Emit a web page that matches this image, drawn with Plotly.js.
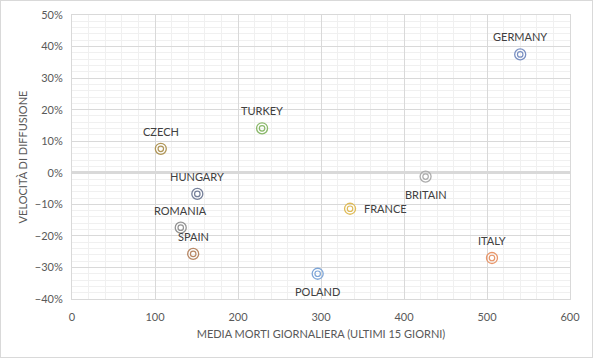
<!DOCTYPE html>
<html>
<head>
<meta charset="utf-8">
<script src="https://cdn.plot.ly/plotly-3.0.1.min.js"></script>
<style>
html,body{margin:0;padding:0;background:#fff;}
#chart{width:591px;height:356px;border:1px solid #d9d9d9;}
</style>
</head>
<body>
<div id="chart"></div>
<script>
const countries = ["GERMANY","TURKEY","CZECH","HUNGARY","ROMANIA","SPAIN","POLAND","FRANCE","BRITAIN","ITALY"];
const deaths = [540, 229, 107, 151, 131, 146, 296, 335, 426, 506];
const speed = [0.375, 0.141, 0.076, -0.067, -0.174, -0.257, -0.32, -0.114, -0.012, -0.27];
const labelPos = ["top","top","top","top","top","top","bottom","right","bottom","top"];
const colors = ["#7a90c2","#8ab86a","#b09658","#76809a","#939393","#b88866","#7ea6d8","#dfbb58","#acacac","#e8966a"];
const xTitle = "MEDIA MORTI GIORNALIERA (ULTIMI 15 GIORNI)";
const yTitle = "VELOCITÀ DI DIFFUSIONE";

const FONT = "Lato, 'Open Sans', sans-serif";
const txt = "#595959";

const outer = {
  x: deaths, y: speed, mode: "markers", type: "scatter", hoverinfo: "skip",
  marker: {symbol: "circle-open", size: 11, color: colors, line: {width: 1.3, color: colors}}
};
const inner = {
  x: deaths, y: speed, mode: "markers", type: "scatter", hoverinfo: "skip",
  marker: {symbol: "circle-open", size: 5.5, color: colors, line: {width: 1.2, color: colors}}
};

const annotations = countries.map((c, i) => {
  const p = labelPos[i];
  const a = {x: deaths[i], y: speed[i], xref: "x", yref: "y", text: c, showarrow: false,
    font: {family: FONT, size: 11, color: "#404040"}};
  if (p === "top") { a.yshift = 17.5; }
  else if (p === "bottom") { a.yshift = -17.5; }
  else { a.xanchor = "left"; a.xshift = 12; }
  return a;
});

const layout = {
  width: 591, height: 356,
  margin: {l: 71, r: 22, t: 14, b: 58},
  paper_bgcolor: "#fff", plot_bgcolor: "#fff",
  showlegend: false,
  font: {family: FONT, size: 11, color: txt},
  xaxis: {
    range: [0, 600], dtick: 100, tick0: 0,
    showgrid: true, gridcolor: "#d9d9d9", gridwidth: 1,
    minor: {dtick: 20, showgrid: true, gridcolor: "#f0f0f0", gridwidth: 1},
    zeroline: false, showline: true, linecolor: "#d9d9d9", mirror: true,
    ticks: "", ticklabelstandoff: 8,
    tickfont: {family: FONT, size: 11, color: txt},
    title: {text: xTitle, font: {family: FONT, size: 11, color: txt}, standoff: 8}
  },
  yaxis: {
    range: [-0.4, 0.5], dtick: 0.1, tick0: 0, tickformat: ".0%",
    showgrid: true, gridcolor: "#d9d9d9", gridwidth: 1,
    minor: {dtick: 0.02, showgrid: true, gridcolor: "#f0f0f0", gridwidth: 1},
    zeroline: true, zerolinecolor: "#d9d9d9", zerolinewidth: 3,
    showline: true, linecolor: "#d9d9d9", mirror: true,
    ticks: "", ticklabelstandoff: 6,
    tickfont: {family: FONT, size: 11, color: txt},
    title: {text: yTitle, font: {family: FONT, size: 11, color: txt}, standoff: 4}
  },
  annotations: annotations
};

Plotly.newPlot("chart", [outer, inner], layout, {displayModeBar: false, staticPlot: true});
</script>
</body>
</html>
